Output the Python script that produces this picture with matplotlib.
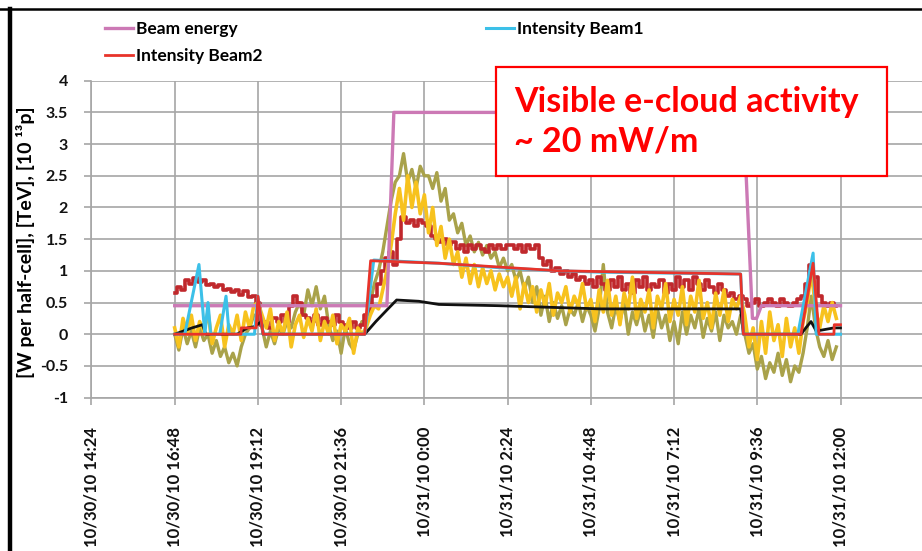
import numpy as np
import matplotlib
matplotlib.use("Agg")
import matplotlib.pyplot as plt
from matplotlib.lines import Line2D

plt.rcParams['font.family'] = ['Lato', 'DejaVu Sans']
plt.rcParams['font.weight'] = 'bold'

# hours since 10/30/10 00:00
tick_hours = [14.4, 16.8, 19.2, 21.6, 24.0, 26.4, 28.8, 31.2, 33.6, 36.0]
tick_labels = ["10/30/10 14:24", "10/30/10 16:48", "10/30/10 19:12", "10/30/10 21:36",
               "10/31/10 0:00", "10/31/10 2:24", "10/31/10 4:48", "10/31/10 7:12",
               "10/31/10 9:36", "10/31/10 12:00"]

# step-like signals (time in hours, value)
energy_t = [16.8, 22.92, 23.12, 33.2, 33.46, 33.58, 33.72, 36.0]
energy_v = [0.45, 0.45, 3.5, 3.5, 0.25, 0.25, 0.45, 0.45]

beam1_t = [16.8, 17.09, 17.5, 17.67, 17.76, 17.84, 18.1, 18.28, 18.37, 19.1, 19.2, 19.35,
           22.28, 22.54, 24.42, 26.16, 27.9, 29.06, 33.12, 33.2, 34.77, 35.21, 35.3, 36.0]
beam1_v = [0, 0, 1.1, 0, 0.5, 0, 0, 0.6, 0, 0, 0.6, 0,
           0, 1.17, 1.12, 1.05, 1.0, 0.98, 0.95, 0, 0, 1.28, 0, 0]

beam2_t = [16.8, 18.71, 18.72, 19.15, 19.2, 19.35, 22.28, 22.45, 24.42, 27.9, 33.12, 33.2,
           34.86, 35.21, 35.38, 35.81, 35.82, 36.0]
beam2_v = [0, 0, 0.1, 0.1, 0.6, 0, 0, 1.16, 1.12, 1.0, 0.95, 0,
           0, 1.12, 0, 0, 0.15, 0.15]

black_t = [16.8, 17.3, 17.6, 17.7, 18.6, 18.9, 19.1, 19.3, 19.35, 22.28, 22.6, 22.95, 23.2,
           23.84, 24.42, 26.16, 27.9, 29.06, 33.12, 33.2, 34.86, 35.0, 35.15, 35.3, 35.81, 36.0]
black_v = [0, 0.1, 0.15, 0, 0, 0.1, 0.12, 0.2, 0, 0, 0.2, 0.4, 0.54,
           0.52, 0.47, 0.45, 0.42, 0.4, 0.4, 0, 0, 0.1, 0.2, 0.05, 0.1, 0.1]

# noisy heat load traces, sampled every 0.12 h from 16:48
t_noise = np.linspace(16.8, 35.88, 160)

yellow = [0.1, -0.2, 0.25, 0.0, 0.3, -0.1, 0.2, 0.05, 0.35, -0.15, 0.1, 0.3, -0.2, 0.15, 0.0, 0.3, -0.1, 0.35, 0.1, 0.45,
          0.5, 0.3, 0.1, 0.4, -0.1, 0.2, 0.0, 0.35, -0.2, 0.15, 0.3, -0.05, 0.25, 0.05, 0.4, -0.1, 0.2, 0.0, 0.3, -0.15,
          0.15, 0.05, 0.25, -0.3, 0.1, 0.0,
          0.1, 0.3, 0.45, 0.4, 0.7, 1.0, 1.4, 1.9,
          2.3, 1.8, 2.5, 2.0, 2.4, 1.9, 2.2,
          1.6, 2.0, 1.4, 1.7, 1.2, 1.5, 1.1,
          1.3, 0.9, 1.2, 0.8, 1.1, 0.75, 1.05, 0.8, 1.0, 0.7, 0.95, 0.75, 0.9,
          0.6, 0.9, 0.4, 0.8, 0.5, 0.75, 0.35, 0.7, 0.45, 0.8, 0.3, 0.65, 0.5, 0.75, 0.35, 0.6, 0.45, 0.8, 0.4,
          0.55, 0.2, 0.7, 0.35, 0.85, 0.3, 0.6, 0.15, 0.65, 0.4, 0.9, 0.25, 0.55, 0.35, 0.7, 0.1, 0.6, 0.4, 0.8, 0.2,
          0.55, 0.3, 0.75, 0.15, 0.6, 0.35, 0.85, 0.25, 0.5, 0.1, 0.65, 0.3, 0.7, 0.2, 0.55, 0.4, 0.6,
          0.3, -0.2, 0.1, -0.4, 0.2, -0.3, 0.35, -0.1, 0.15, -0.35, 0.25, -0.2, 0.1, -0.3, 0.2, 0.5,
          1.0, 0.4, 0.1, 0.45, 0.2, 0.5, 0.25]

olive = [0.0, -0.25, 0.1, -0.15, 0.05, -0.2, 0.1, -0.1, 0.0, -0.3, -0.1, -0.35, -0.2, -0.45, -0.3, -0.5, -0.2, 0.0, 0.1, 0.3,
         0.3, 0.1, -0.2, 0.05, -0.15, 0.1, 0.0, 0.2, 0.1, 0.35, 0.5, 0.3, 0.7, 0.45, 0.75, 0.4, 0.6, 0.15, -0.1, 0.05,
         -0.3, 0.1, -0.15, -0.25, 0.0, 0.2,
         0.2, 0.5, 0.8, 1.0, 1.3, 1.7, 2.1, 2.4,
         2.5, 2.85, 2.4, 2.6, 2.3, 2.65, 2.5,
         2.5, 2.3, 2.55, 2.1, 2.3, 1.8, 1.9,
         1.6, 1.75, 1.4, 1.55, 1.3, 1.45, 1.25, 1.4, 1.2, 1.3, 1.05, 1.2, 1.0,
         1.1, 0.85, 1.0, 0.7, 0.9, 0.5, 0.75, 0.3, 0.6, 0.2, 0.5, 0.25, 0.45, 0.15, 0.4, 0.3, 0.5, 0.2, 0.45,
         0.3, 0.05, 0.4, 1.1, 0.35, 0.1, 0.45, 0.2, 0.5, 0.0, 0.35, 0.15, 0.4, 0.05, 0.3, -0.05, 0.4, 0.1, 0.3, -0.1,
         0.2, -0.15, 0.35, 0.0, 0.3, 0.1, 0.4, -0.05, 0.25, 0.05, 0.35, -0.1, 0.3, 0.1, 0.2, 0.0, 0.3,
         0.0, -0.3, -0.15, -0.55, -0.35, -0.7, -0.45, -0.6, -0.3, -0.65, -0.4, -0.75, -0.5, -0.6, -0.3, 0.1,
         0.6, 0.1, -0.2, -0.35, -0.1, -0.4, -0.2]

darkred = [0.65, 0.75, 0.7, 0.85, 0.8, 0.88, 0.82, 0.86, 0.78, 0.8, 0.74, 0.78, 0.7, 0.72, 0.66, 0.7, 0.62, 0.68, 0.58, 0.6,
           0.5, 0.15, 0.2, 0.1, 0.25, 0.2, 0.3, 0.2, 0.45, 0.6, 0.5, 0.3, 0.25, 0.2, 0.3, 0.15, 0.25, 0.2, 0.15, 0.3,
           0.2, 0.15, 0.1, 0.2, 0.1, 0.15,
           0.3, 0.4, 0.6, 0.8, 1.0, 1.2, 1.3, 1.1,
           1.5, 1.85, 1.75, 1.8, 1.7, 1.8, 1.75,
           1.7, 1.55, 1.5, 1.45, 1.5, 1.4, 1.45,
           1.35, 1.4, 1.3, 1.4, 1.35, 1.4, 1.35, 1.3, 1.4, 1.35, 1.4, 1.35, 1.4,
           1.4, 1.35, 1.4, 1.3, 1.4, 1.35, 1.4, 1.2, 1.1, 1.15, 1.0, 1.05, 0.95, 1.0, 0.9, 0.95, 0.85, 0.9, 0.8,
           0.85, 0.75, 0.9, 0.8, 0.7, 0.85, 0.75, 0.9, 0.7, 0.8, 0.65, 0.85, 0.75, 0.9, 0.7, 0.8, 0.75, 0.85, 0.65, 0.8,
           0.7, 0.9, 0.75, 0.85, 0.7, 0.9, 0.8, 0.7, 0.85, 0.75, 0.65, 0.8, 0.7, 0.6, 0.65, 0.55, 0.6,
           0.55, 0.45, 0.5, 0.55, 0.45, 0.5, 0.55, 0.5, 0.45, 0.55, 0.5, 0.45, 0.5, 0.55, 0.6, 0.8,
           1.1, 0.9, 0.6, 0.5, 0.45, 0.5, 0.45]

fig = plt.figure(figsize=(9.22, 5.51), dpi=100)
ax = fig.add_axes([0.0992, 0.2784, 0.9008, 0.5751])

ax.plot(t_noise, olive, color='#A9A24A', lw=2.4, zorder=2)
ax.plot(t_noise, darkred, color='#C0282C', lw=2.6, drawstyle='steps-mid', zorder=3)
ax.plot(t_noise, yellow, color='#F7C21E', lw=2.6, zorder=4)
ax.plot(black_t, black_v, color='#111111', lw=2.0, zorder=5)
l_en, = ax.plot(energy_t, energy_v, color='#CC79B5', lw=2.4, zorder=6, label='Beam energy')
l_b1, = ax.plot(beam1_t, beam1_v, color='#3CC0E8', lw=2.2, zorder=7, label='Intensity Beam1')
l_b2, = ax.plot(beam2_t, beam2_v, color='#E8332A', lw=2.0, zorder=8, label='Intensity Beam2')

ax.set_xlim(14.4, 38.35)
ax.set_ylim(-1, 4)
ax.set_xticks(tick_hours)
ax.set_xticklabels(tick_labels, rotation=90, fontsize=12, fontweight='bold')
ax.set_yticks(np.arange(-1, 4.01, 0.5))
ax.set_yticklabels(['-1', '-0.5', '0', '0.5', '1', '1.5', '2', '2.5', '3', '3.5', '4'],
                   fontsize=11.5, fontweight='bold')
ax.grid(True, color='#A6A6A6', lw=1.2)
ax.set_axisbelow(True)
for s in ['top', 'right']:
    ax.spines[s].set_visible(False)
ax.spines['left'].set_color('#A6A6A6')
ax.spines['bottom'].set_color('#A6A6A6')
ax.spines['left'].set_linewidth(1.2)
ax.spines['bottom'].set_linewidth(1.2)
ax.tick_params(axis='both', colors='#A6A6A6', length=5, width=1.2, labelcolor='#111111')
ax.tick_params(axis='x', pad=16)
ax.tick_params(axis='y', pad=12)

ax.set_ylabel('[W per half-cell], [TeV], [10 ¹³p]', fontsize=14, fontweight='bold')
ax.yaxis.set_label_coords(-0.0675, 0.49)

fig.legend(handles=[l_en, l_b2, l_b1], loc='upper left', bbox_to_anchor=(0.097, 0.99),
           ncol=2, frameon=False, handlelength=1.6, handletextpad=0.2,
           columnspacing=12.85, labelspacing=0.65, prop={'weight': 'bold', 'size': 12.5})

fig.patches.append(plt.Rectangle((496 / 922, 1 - 176 / 551), 391 / 922, 109 / 551,
                                 transform=fig.transFigure, fc='white', ec='#FF0000', lw=1.6, zorder=9))
fig.text(514 / 922, 1 - 122 / 551, 'Visible e-cloud activity\n~ 20 mW/m', color='#FF0000',
         fontsize=24.5, fontweight='bold', va='center', ha='left', linespacing=1.3, zorder=10)

# slide frame lines
fig.add_artist(Line2D([0, 1], [1 - 9 / 551, 1 - 9 / 551], color='black', lw=1.8))
fig.add_artist(Line2D([9.5 / 922, 9.5 / 922], [0, 1 - 9 / 551], color='black', lw=3.2))

fig.savefig('out.png', dpi=100)
